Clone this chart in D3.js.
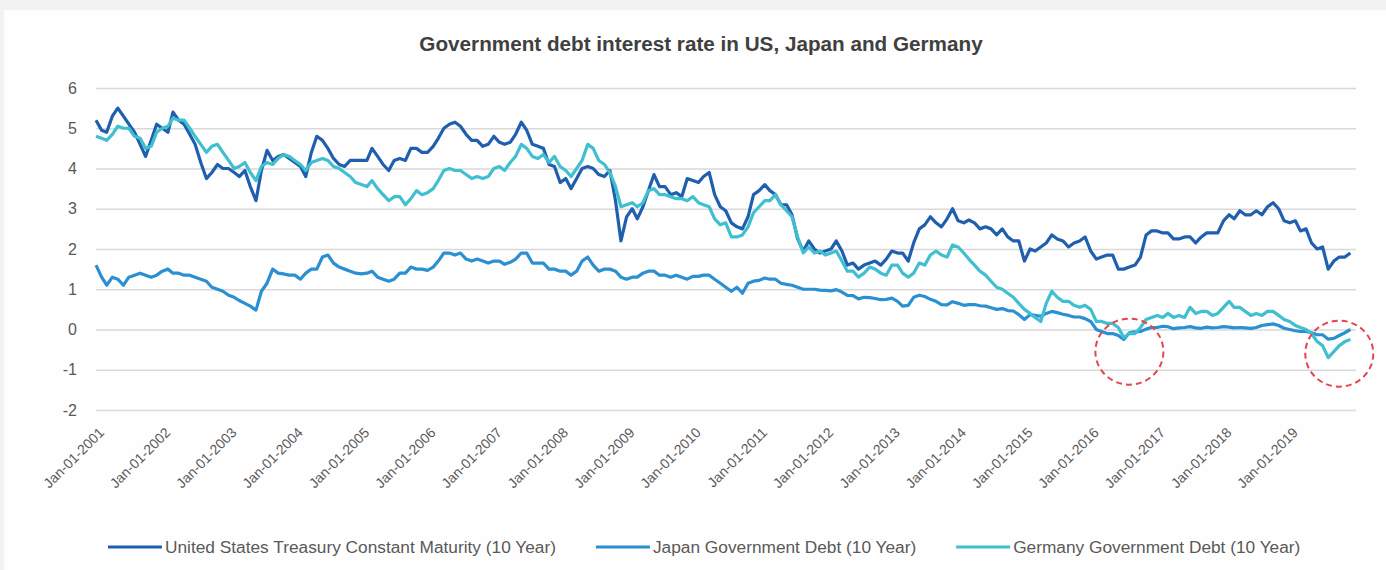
<!DOCTYPE html>
<html>
<head>
<meta charset="utf-8">
<script src="https://cdn.jsdelivr.net/npm/d3@7"></script>
<style>
  html, body { margin: 0; padding: 0; background: #f1f3f3; }
  svg { display: block; }
  text { font-family: "Liberation Sans", Arial, sans-serif; }
</style>
</head>
<body>
<svg id="chart" width="1386" height="570"></svg>
<script>
// monthly values, Jan 2001 .. Dec 2019
const firstMonth = "2001-01-01";
const tickYears = [2001, 2002, 2003, 2004, 2005, 2006, 2007, 2008, 2009, 2010,
  2011, 2012, 2013, 2014, 2015, 2016, 2017, 2018, 2019];
const yTicks = [-2, -1, 0, 1, 2, 3, 4, 5, 6];
const seriesNames = [
  "United States Treasury Constant Maturity (10 Year)",
  "Japan Government Debt (10 Year)",
  "Germany Government Debt (10 Year)"
];

const usRates = [
  5.2, 4.95, 4.9, 5.3, 5.5, 5.3, 5.1, 4.9, 4.6, 4.3, 4.7, 5.1,
  5.0, 4.9, 5.4, 5.2, 5.1, 4.85, 4.6, 4.15, 3.75, 3.9, 4.1, 4.0,
  4.0, 3.9, 3.8, 3.95, 3.55, 3.2, 3.95, 4.45, 4.2, 4.3, 4.35, 4.25,
  4.15, 4.05, 3.8, 4.4, 4.8, 4.7, 4.5, 4.25, 4.1, 4.05, 4.2, 4.2,
  4.2, 4.2, 4.5, 4.3, 4.1, 3.95, 4.2, 4.25, 4.2, 4.5, 4.5, 4.4,
  4.4, 4.55, 4.75, 5.0, 5.1, 5.15, 5.05, 4.85, 4.7, 4.7, 4.55, 4.6,
  4.8, 4.65, 4.6, 4.65, 4.85, 5.15, 4.95, 4.6, 4.55, 4.5, 4.1, 4.05,
  3.65, 3.75, 3.5, 3.75, 4.0, 4.05, 4.0, 3.85, 3.8, 3.95, 3.2, 2.2,
  2.8, 3.0, 2.75, 3.05, 3.45, 3.85, 3.55, 3.55, 3.35, 3.4, 3.3, 3.75,
  3.7, 3.65, 3.8, 3.9, 3.35, 3.05, 2.95, 2.65, 2.55, 2.5, 2.8, 3.35,
  3.45, 3.6, 3.45, 3.35, 3.1, 3.1, 2.85, 2.25, 1.95, 2.2, 2.0, 1.9,
  1.95, 2.0, 2.2, 1.95, 1.6, 1.65, 1.5, 1.6, 1.65, 1.7, 1.6, 1.75,
  1.95, 1.9, 1.9, 1.7, 2.15, 2.5, 2.6, 2.8, 2.65, 2.55, 2.75, 3.0,
  2.7, 2.65, 2.72, 2.65, 2.5, 2.55, 2.5, 2.35, 2.5, 2.3, 2.2, 2.2,
  1.7, 2.0, 1.95, 2.05, 2.15, 2.35, 2.25, 2.2, 2.05, 2.15, 2.2, 2.3,
  1.95, 1.75, 1.8, 1.85, 1.85, 1.5, 1.5, 1.55, 1.6, 1.8, 2.35, 2.45,
  2.45, 2.4, 2.4, 2.25, 2.25, 2.3, 2.3, 2.15, 2.3, 2.4, 2.4, 2.4,
  2.7, 2.85, 2.75, 2.95, 2.85, 2.85, 2.95, 2.85, 3.05, 3.15, 3.0, 2.7,
  2.65, 2.7, 2.45, 2.5, 2.15, 2.0, 2.05, 1.5, 1.7, 1.8, 1.8, 1.9
];

const japanRates = [
  1.6, 1.3, 1.1, 1.3, 1.25, 1.1, 1.3, 1.35, 1.4, 1.35, 1.3, 1.35,
  1.45, 1.5, 1.4, 1.4, 1.35, 1.35, 1.3, 1.25, 1.2, 1.05, 1.0, 0.95,
  0.85, 0.8, 0.72, 0.65, 0.58, 0.48, 0.95, 1.15, 1.5, 1.4, 1.38, 1.35,
  1.35, 1.25, 1.4, 1.5, 1.5, 1.8, 1.85, 1.65, 1.55, 1.5, 1.45, 1.4,
  1.38, 1.4, 1.45, 1.3, 1.25, 1.2, 1.25, 1.4, 1.4, 1.55, 1.5, 1.5,
  1.47, 1.55, 1.7, 1.9, 1.9, 1.85, 1.9, 1.75, 1.7, 1.75, 1.7, 1.65,
  1.7, 1.7, 1.62, 1.67, 1.75, 1.9, 1.9, 1.65, 1.65, 1.65, 1.5, 1.5,
  1.45, 1.45, 1.35, 1.45, 1.7, 1.8, 1.6, 1.45, 1.5, 1.5, 1.45, 1.3,
  1.25, 1.3, 1.3, 1.4, 1.45, 1.45, 1.35, 1.35, 1.3, 1.35, 1.3, 1.25,
  1.32, 1.32, 1.35, 1.35, 1.25, 1.15, 1.05, 0.95, 1.05, 0.9, 1.15, 1.2,
  1.22, 1.28, 1.25, 1.25, 1.15, 1.12, 1.1, 1.05, 1.0, 1.0, 1.0, 0.98,
  0.97, 0.96, 0.99, 0.93, 0.85, 0.84, 0.76, 0.8, 0.79, 0.77, 0.74, 0.75,
  0.78, 0.7, 0.58, 0.6, 0.8, 0.85, 0.82, 0.75, 0.7, 0.62, 0.61, 0.69,
  0.65, 0.6, 0.62, 0.62, 0.59, 0.58, 0.54, 0.5, 0.52, 0.47, 0.46, 0.37,
  0.25, 0.37, 0.35, 0.33, 0.4, 0.45, 0.42, 0.38, 0.35, 0.31, 0.31, 0.27,
  0.2, 0.0, -0.05, -0.1, -0.1, -0.15, -0.25, -0.08, -0.06, -0.05, 0.01, 0.05,
  0.05, 0.08, 0.07, 0.02, 0.04, 0.05, 0.07, 0.04, 0.03, 0.06, 0.04, 0.05,
  0.07, 0.06, 0.04, 0.05, 0.04, 0.03, 0.05, 0.1, 0.12, 0.14, 0.1, 0.03,
  0.0, -0.03, -0.05, -0.05, -0.08, -0.13, -0.13, -0.24, -0.22, -0.15, -0.08, 0.0
];

const germanyRates = [
  4.8, 4.75, 4.7, 4.85, 5.05, 5.0, 5.0, 4.8, 4.75, 4.5, 4.55, 4.9,
  5.0, 5.05, 5.25, 5.2, 5.2, 5.0, 4.8, 4.6, 4.4, 4.55, 4.6, 4.4,
  4.2, 4.0, 4.05, 4.15, 3.9, 3.7, 4.05, 4.15, 4.1, 4.25, 4.35, 4.3,
  4.2, 4.1, 3.95, 4.15, 4.2, 4.25, 4.2, 4.05, 4.0, 3.9, 3.8, 3.65,
  3.6, 3.55, 3.7, 3.5, 3.35, 3.2, 3.3, 3.3, 3.1, 3.25, 3.45, 3.35,
  3.4, 3.5, 3.7, 3.95, 4.0, 3.95, 3.95, 3.85, 3.75, 3.8, 3.75, 3.8,
  4.0, 4.05, 3.95, 4.15, 4.3, 4.6, 4.5, 4.3, 4.25, 4.35, 4.15, 4.3,
  4.05, 3.95, 3.8, 4.0, 4.2, 4.6, 4.5, 4.2, 4.1, 3.9, 3.55, 3.05,
  3.1, 3.15, 3.05, 3.15, 3.45, 3.5, 3.35, 3.35, 3.3, 3.25, 3.25, 3.2,
  3.3, 3.15, 3.1, 3.05, 2.75, 2.6, 2.65, 2.3, 2.3, 2.35, 2.55, 2.9,
  3.05, 3.2, 3.2, 3.35, 3.1, 2.95, 2.8, 2.3, 1.9, 2.05, 1.9, 1.95,
  1.85, 1.9, 1.95, 1.7, 1.45, 1.45, 1.3, 1.4, 1.55, 1.5, 1.4, 1.35,
  1.6, 1.6, 1.4, 1.3, 1.4, 1.65, 1.6, 1.85, 1.95, 1.85, 1.8, 2.1,
  2.05, 1.9, 1.75, 1.6, 1.45, 1.35, 1.2, 1.05, 1.0, 0.9, 0.8, 0.65,
  0.5, 0.4, 0.3, 0.2, 0.65, 0.95, 0.8, 0.7, 0.7, 0.6, 0.55, 0.6,
  0.5, 0.2, 0.2, 0.15, 0.15, 0.05, -0.2, -0.1, -0.1, 0.05, 0.25, 0.3,
  0.35, 0.3, 0.4, 0.3, 0.35, 0.3, 0.55, 0.4, 0.45, 0.45, 0.35, 0.4,
  0.55, 0.7, 0.55, 0.55, 0.45, 0.35, 0.4, 0.35, 0.45, 0.45, 0.35, 0.25,
  0.2, 0.1, 0.05, 0.0, -0.1, -0.3, -0.4, -0.7, -0.55, -0.4, -0.3, -0.25
];

// dashed circles marking negative yields: centre date and centre value
const highlightDates = ["2016-08-01", "2019-10-01"];
const highlightValues = [-0.55, -0.6];

const colors = ["#1f5fae", "#2a90d2", "#3fbfcf"];

const W = 1386, H = 570;
const margin = { left: 96, right: 30, top: 88, bottom: 160 };
const svg = d3.select("#chart");

svg.append("rect")
  .attr("x", 4).attr("y", 10)
  .attr("width", W - 4).attr("height", H - 10)
  .attr("fill", "#fefefe");

const months = d3.timeMonth.range(new Date(firstMonth), d3.timeMonth.offset(new Date(firstMonth), usRates.length));

const x = d3.scaleTime()
  .domain([new Date(2001, 0, 1), new Date(2020, 0, 1)])
  .range([margin.left, W - margin.right]);
const y = d3.scaleLinear()
  .domain([-2, 6])
  .range([H - margin.bottom, margin.top]);

// title
svg.append("text")
  .attr("x", 701).attr("y", 51)
  .attr("text-anchor", "middle")
  .attr("font-size", 20.7)
  .attr("font-weight", "bold")
  .attr("fill", "#404040")
  .text("Government debt interest rate in US, Japan and Germany");

// gridlines + y labels
const yAxis = svg.append("g")
  .attr("transform", `translate(${margin.left},0)`)
  .call(d3.axisLeft(y)
    .tickValues(yTicks)
    .tickFormat(d => String(d))
    .tickSize(-(W - margin.left - margin.right))
    .tickPadding(19));
yAxis.select(".domain").remove();
yAxis.selectAll(".tick line").attr("stroke", "#d9d9d9").attr("stroke-width", 1.4);
yAxis.selectAll(".tick text")
  .attr("font-size", 16)
  .attr("fill", "#595959")
  .attr("font-family", "Liberation Sans, Arial, sans-serif");

// x labels, rotated
const xAxis = svg.append("g")
  .attr("transform", `translate(0,${y(-2)})`)
  .call(d3.axisBottom(x)
    .tickValues(tickYears.map(yr => new Date(yr, 0, 1)))
    .tickFormat(d3.timeFormat("Jan-01-%Y"))
    .tickSize(0));
xAxis.select(".domain").remove();
xAxis.selectAll(".tick text")
  .attr("font-size", 14)
  .attr("fill", "#595959")
  .attr("font-family", "Liberation Sans, Arial, sans-serif")
  .attr("text-anchor", "end")
  .attr("x", 0).attr("y", 0).attr("dy", "0.35em")
  .attr("transform", "translate(5,20) rotate(-45)");

// lines
const allSeries = [usRates, japanRates, germanyRates];
const line = d3.line()
  .x((d, i) => x(months[i]))
  .y(d => y(d));

svg.append("g").selectAll("path")
  .data(allSeries)
  .join("path")
  .attr("d", d => line(d))
  .attr("fill", "none")
  .attr("stroke", (d, i) => colors[i])
  .attr("stroke-width", 3.2)
  .attr("stroke-linejoin", "round");

// highlight circles
svg.append("g").selectAll("ellipse")
  .data(highlightDates)
  .join("ellipse")
  .attr("cx", d => x(new Date(d)))
  .attr("cy", (d, i) => y(highlightValues[i]))
  .attr("rx", 34).attr("ry", 33)
  .attr("fill", "none")
  .attr("stroke", "#e2474f")
  .attr("stroke-width", 2)
  .attr("stroke-dasharray", "6,4");

// legend
const legend = svg.append("g").attr("transform", "translate(0,547)");
let lx = 108;
seriesNames.forEach((name, i) => {
  legend.append("line")
    .attr("x1", lx).attr("x2", lx + 54)
    .attr("y1", 0).attr("y2", 0)
    .attr("stroke", colors[i]).attr("stroke-width", 3);
  const t = legend.append("text")
    .attr("x", lx + 57).attr("y", 0).attr("dy", "0.35em")
    .attr("font-size", 17.3)
    .attr("fill", "#595959")
    .text(name);
  lx += 57 + t.node().getComputedTextLength() + 40;
});
</script>
</body>
</html>
